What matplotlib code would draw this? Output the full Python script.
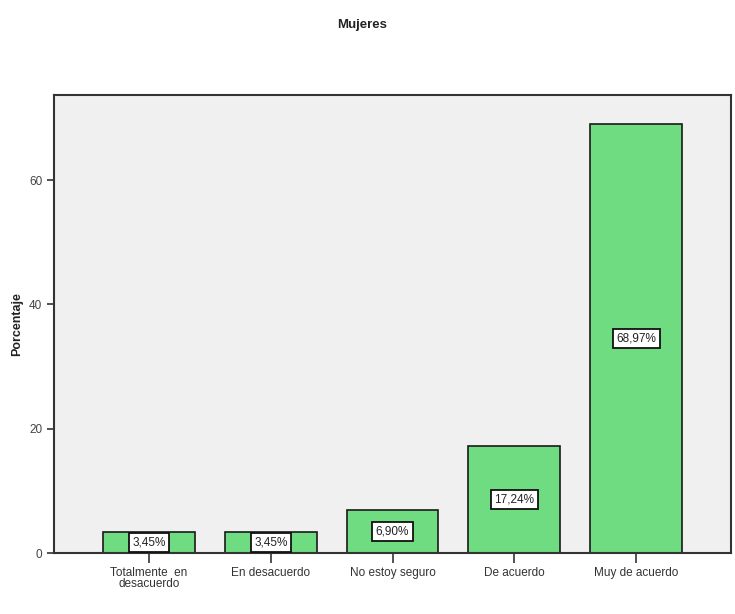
import matplotlib
matplotlib.use("Agg")
import matplotlib.pyplot as plt

categories = ["Totalmente  en\ndesacuerdo", "En desacuerdo", "No estoy seguro", "De acuerdo", "Muy de acuerdo"]
values = [3.45, 3.45, 6.90, 17.24, 68.97]
value_labels = ["3,45%", "3,45%", "6,90%", "17,24%", "68,97%"]
yticks = [0, 20, 40, 60]

plt.rcParams['font.family'] = ['Liberation Sans', 'DejaVu Sans']

fig = plt.figure(figsize=(7.35, 6.14), dpi=100)
W, H = 735, 614
ax = fig.add_axes([54 / W, (H - 553) / H, (731 - 54) / W, (553 - 95) / H])
ax.set_facecolor("#f0f0f0")

x = list(range(len(categories)))
ax.bar(x, values, width=0.754, color="#70dc82", edgecolor="#1a1a1a", linewidth=1.2, zorder=2)

for xi, v, lab in zip(x, values, value_labels):
    ax.text(xi, v / 2, lab, ha="center", va="center", fontsize=8.5, color="#222222", zorder=3,
            bbox=dict(boxstyle="square,pad=0.3", facecolor="white", edgecolor="#111111", linewidth=1.3))

ax.set_xlim(-0.78, 4.78)
ax.set_ylim(0, 73.7)
ax.set_yticks(yticks)
ax.set_xticks(x)
ax.set_xticklabels(categories, fontsize=8.5, color="#333333", linespacing=0.95)
ax.tick_params(axis="y", labelsize=8.5, labelcolor="#444444", length=5, width=1.2, color="#333333")
ax.tick_params(axis="x", length=7, width=1.2, color="#333333", pad=3)
for s in ax.spines.values():
    s.set_color("#333333")
    s.set_linewidth(1.5)

ax.set_ylabel("Porcentaje", fontsize=9, fontweight="bold", color="#222222")
ax.yaxis.set_label_coords(-(54 - 23) / (731 - 54), 0.5)
fig.text(362 / W, 1 - 25 / H, "Mujeres", ha="center", va="center", fontsize=9.5, fontweight="bold", color="#222222")

fig.savefig("out.png", dpi=100)
